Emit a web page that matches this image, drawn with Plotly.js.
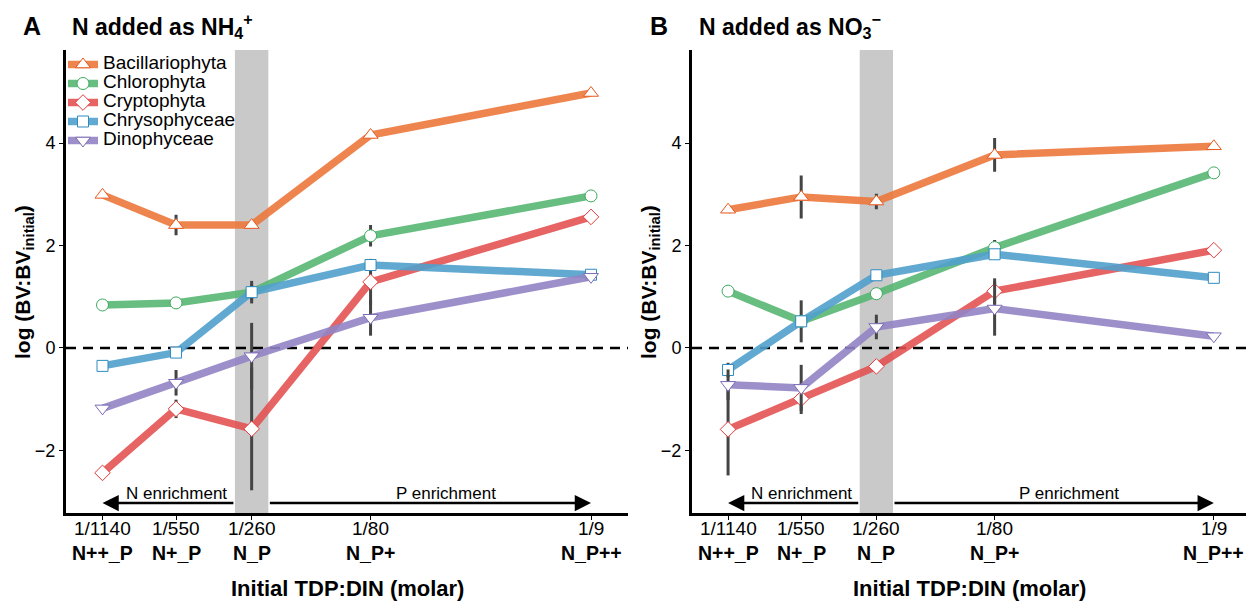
<!DOCTYPE html>
<html>
<head>
<meta charset="utf-8">
<script src="https://cdn.plot.ly/plotly-3.0.1.min.js"></script>
<style>html,body{margin:0;padding:0;background:#fff;}#chart{width:1246px;height:603px;}</style>
</head>
<body>
<div id="chart"></div>
<script>
// ---- data ----
const ratios = [1/1140, 1/550, 1/260, 1/80, 1/9];
const tickRow1 = ['1/1140', '1/550', '1/260', '1/80', '1/9'];
const tickRow2 = ['N++_P', 'N+_P', 'N_P', 'N_P+', 'N_P++'];
const groups = ['Bacillariophyta', 'Chlorophyta', 'Cryptophyta', 'Chrysophyceae', 'Dinophyceae'];

// Panel A: N added as NH4+
const A_Bacillariophyta = [2.99, 2.40, 2.40, 4.16, 4.98];
const A_Chlorophyta     = [0.84, 0.88, 1.09, 2.19, 2.97];
const A_Cryptophyta     = [-2.44, -1.19, -1.58, 1.29, 2.56];
const A_Chrysophyceae   = [-0.35, -0.09, 1.09, 1.62, 1.43];
const A_Dinophyceae     = [-1.18, -0.68, -0.16, 0.59, 1.39];
const A_err_Bacillariophyta = [0, 0.20, 0.05, 0.05, 0];
const A_err_Chlorophyta     = [0, 0, 0.22, 0.21, 0];
const A_err_Cryptophyta     = [0, 0.18, 1.20, 0.45, 0];
const A_err_Chrysophyceae   = [0, 0, 0.15, 0.10, 0];
const A_err_Dinophyceae     = [0, 0.25, 0.65, 0.35, 0];

// Panel B: N added as NO3-
const B_Bacillariophyta = [2.70, 2.95, 2.86, 3.77, 3.94];
const B_Chlorophyta     = [1.11, 0.52, 1.06, 1.96, 3.42];
const B_Cryptophyta     = [-1.59, -0.99, -0.36, 1.11, 1.91];
const B_Chrysophyceae   = [-0.43, 0.52, 1.42, 1.83, 1.37];
const B_Dinophyceae     = [-0.72, -0.78, 0.41, 0.77, 0.23];
const B_err_Bacillariophyta = [0, 0.42, 0.15, 0.33, 0];
const B_err_Chlorophyta     = [0, 0.41, 0, 0.15, 0];
const B_err_Cryptophyta     = [0.90, 0.30, 0, 0.25, 0];
const B_err_Chrysophyceae   = [0.14, 0, 0, 0, 0];
const B_err_Dinophyceae     = [0.30, 0.45, 0.24, 0.53, 0];

// ---- styles ----
const lineColors = ['rgba(236,120,60,0.9)', 'rgba(88,182,115,0.9)', 'rgba(228,78,78,0.88)', 'rgba(80,160,204,0.9)', 'rgba(146,132,196,0.9)'];
const edgeColors = ['#E8581D', '#3DAA5E', '#E23B3B', '#2E8BC0', '#7B6BB5'];
const symbols = ['triangle-up', 'circle', 'diamond', 'square', 'triangle-down'];
const sizes = [13, 12, 12, 11, 13];
const FONT = '"Liberation Sans", Arial, sans-serif';

const xs = ratios.map(r => Math.log10(r));

const A_vals = [A_Bacillariophyta, A_Chlorophyta, A_Cryptophyta, A_Chrysophyceae, A_Dinophyceae];
const A_errs = [A_err_Bacillariophyta, A_err_Chlorophyta, A_err_Cryptophyta, A_err_Chrysophyceae, A_err_Dinophyceae];
const B_vals = [B_Bacillariophyta, B_Chlorophyta, B_Cryptophyta, B_Chrysophyceae, B_Dinophyceae];
const B_errs = [B_err_Bacillariophyta, B_err_Chlorophyta, B_err_Cryptophyta, B_err_Chrysophyceae, B_err_Dinophyceae];

function makeTrace(i, y, err, panel) {
  return {
    type: 'scatter', mode: 'lines+markers',
    x: xs, y: y,
    xaxis: panel === 'A' ? 'x' : 'x2', yaxis: panel === 'A' ? 'y' : 'y2',
    name: '<span style="font-size:19px">' + groups[i] + '</span>',
    showlegend: panel === 'A',
    line: {color: lineColors[i], width: 7.5},
    marker: {symbol: symbols[i], size: sizes[i], color: '#ffffff', line: {color: edgeColors[i], width: 1}},
    error_y: {type: 'data', array: err, visible: true, color: '#444444', thickness: 3, width: 0},
    hoverinfo: 'skip'
  };
}
const traces = [];
for (let i = 0; i < groups.length; i++) traces.push(makeTrace(i, A_vals[i], A_errs[i], 'A'));
for (let i = 0; i < groups.length; i++) traces.push(makeTrace(i, B_vals[i], B_errs[i], 'B'));

const bandHalf = 0.072;
const xN = Math.log10(1/260);
const arrowY = -3.03;
const textY = -2.85;
const pEnrichX = -1.58;

const yRange = [-3.23, 5.82];
function xaxisDef(domain, range) {
  return {
    domain: domain, range: range, type: 'linear',
    tickmode: 'array', tickvals: xs, showticklabels: false,
    showline: true, linecolor: '#000', linewidth: 3,
    ticks: 'outside', ticklen: 4, tickwidth: 1, tickcolor: '#000',
    showgrid: false, zeroline: false
  };
}
function yaxisDef() {
  return {
    domain: [0.1487, 0.9171], range: yRange,
    tickmode: 'array', tickvals: [-2, 0, 2, 4],
    showline: true, linecolor: '#000', linewidth: 3,
    ticks: 'outside', ticklen: 4, tickwidth: 1, tickcolor: '#000',
    showgrid: false, zeroline: false,
    tickfont: {family: FONT, size: 18, color: '#000'}
  };
}

const shapes = [];
const annotations = [];
[['x', 'y'], ['x2', 'y2']].forEach(([xa, ya]) => {
  shapes.push({type: 'rect', xref: xa, yref: ya + ' domain', x0: xN - bandHalf, x1: xN + bandHalf, y0: 0, y1: 1,
    fillcolor: '#c9c9c9', line: {width: 0}, layer: 'below'});
  shapes.push({type: 'line', xref: xa + ' domain', yref: ya, x0: 0, x1: 1, y0: 0, y1: 0,
    line: {color: '#000', width: 2.5, dash: '10px,7px'}, layer: 'below'});
  // arrows
  annotations.push({xref: xa, yref: ya, axref: xa, ayref: ya, x: xs[0], y: arrowY, ax: xN - bandHalf, ay: arrowY,
    text: '', showarrow: true, arrowhead: 2, arrowsize: 1.3, arrowwidth: 2.5, arrowcolor: '#000'});
  annotations.push({xref: xa, yref: ya, axref: xa, ayref: ya, x: xs[4], y: arrowY, ax: xN + bandHalf, ay: arrowY,
    text: '', showarrow: true, arrowhead: 2, arrowsize: 1.3, arrowwidth: 2.5, arrowcolor: '#000'});
  annotations.push({xref: xa, yref: ya, x: xs[1], y: textY, text: 'N enrichment', showarrow: false,
    font: {family: FONT, size: 17, color: '#000'}});
  annotations.push({xref: xa, yref: ya, x: pEnrichX, y: textY, text: 'P enrichment', showarrow: false,
    font: {family: FONT, size: 17, color: '#000'}});
  // two rows of tick labels
  tickRow1.forEach((t, i) => {
    annotations.push({xref: xa, yref: 'paper', x: xs[i], y: (603 - 528.5) / 603, yanchor: 'middle', xanchor: 'center',
      text: t, showarrow: false, font: {family: FONT, size: 19, color: '#000'}});
  });
  tickRow2.forEach((t, i) => {
    annotations.push({xref: xa, yref: 'paper', x: xs[i], y: (603 - 552.5) / 603, yanchor: 'middle', xanchor: 'center',
      text: '<b>' + t + '</b>', showarrow: false, font: {family: FONT, size: 19.5, color: '#000'}});
  });
  annotations.push({xref: xa + ' domain', yref: 'paper', x: 0.5, y: 0, yanchor: 'bottom',
    text: '<b>Initial TDP:DIN (molar)</b>', showarrow: false, font: {family: FONT, size: 22, color: '#000'}});
});
// panel titles
annotations.push({xref: 'paper', yref: 'paper', x: 32/1246, y: 0.957, xanchor: 'center', yanchor: 'middle',
  text: '<b>A</b>', showarrow: false, font: {family: FONT, size: 25, color: '#000'}});
annotations.push({xref: 'paper', yref: 'paper', x: 70/1246, y: 0.957, xanchor: 'left', yanchor: 'middle',
  text: '<b>N added as NH<sub>4</sub><sup>+</sup></b>', showarrow: false, font: {family: FONT, size: 23, color: '#000'}});
annotations.push({xref: 'paper', yref: 'paper', x: 659/1246, y: 0.957, xanchor: 'center', yanchor: 'middle',
  text: '<b>B</b>', showarrow: false, font: {family: FONT, size: 25, color: '#000'}});
annotations.push({xref: 'paper', yref: 'paper', x: 697/1246, y: 0.957, xanchor: 'left', yanchor: 'middle',
  text: '<b>N added as NO<sub>3</sub><sup>−</sup></b>', showarrow: false, font: {family: FONT, size: 23, color: '#000'}});
// y-axis titles
annotations.push({xref: 'paper', yref: 'paper', x: 24/1246, y: (603-282)/603, xanchor: 'center', yanchor: 'middle',
  textangle: -90, text: '<b>log (BV:BV<sub>initial</sub>)</b>', showarrow: false, font: {family: FONT, size: 21, color: '#000'}});
annotations.push({xref: 'paper', yref: 'paper', x: 650/1246, y: (603-282)/603, xanchor: 'center', yanchor: 'middle',
  textangle: -90, text: '<b>log (BV:BV<sub>initial</sub>)</b>', showarrow: false, font: {family: FONT, size: 21, color: '#000'}});

const layout = {
  width: 1246, height: 603,
  margin: {l: 0, r: 0, t: 0, b: 0},
  paper_bgcolor: '#fff', plot_bgcolor: 'rgba(0,0,0,0)',
  font: {family: FONT, color: '#000'},
  xaxis: Object.assign(xaxisDef([66/1246, 628/1246], [-3.214, -0.795]), {anchor: 'y'}),
  yaxis: Object.assign(yaxisDef(), {anchor: 'x'}),
  xaxis2: Object.assign(xaxisDef([692/1246, 1], [-3.213, -0.815]), {anchor: 'y2'}),
  yaxis2: Object.assign(yaxisDef(), {anchor: 'x2'}),
  showlegend: true,
  legend: {x: 63/1246, y: (603-50)/603, xanchor: 'left', yanchor: 'top', bgcolor: 'rgba(0,0,0,0)',
    font: {family: FONT, size: 12, color: '#000'}, tracegroupgap: 0},
  shapes: shapes, annotations: annotations
};

Plotly.newPlot('chart', traces, layout, {staticPlot: true, displayModeBar: false});
</script>
</body>
</html>
